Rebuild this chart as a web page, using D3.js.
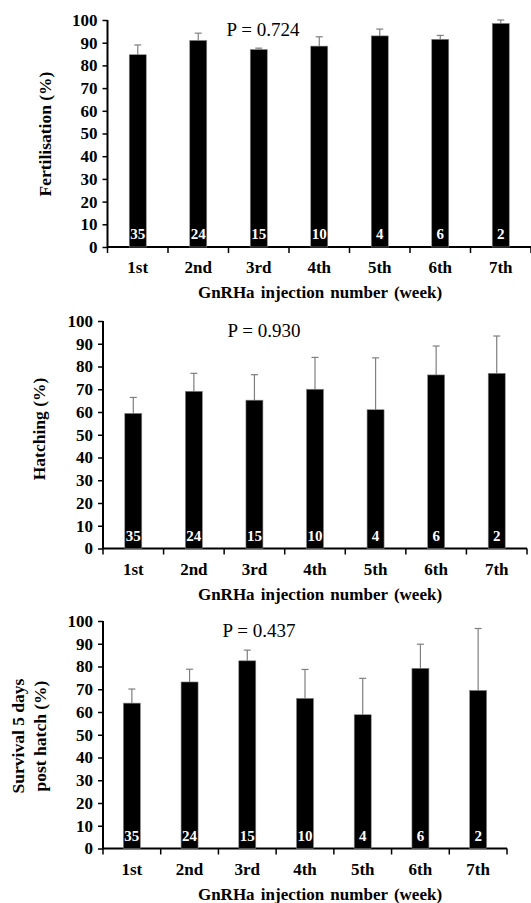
<!DOCTYPE html>
<html>
<head>
<meta charset="utf-8">
<script src="https://cdn.jsdelivr.net/npm/d3@7"></script>
<style>
  body { margin: 0; background: #fff; }
  text { font-family: "Liberation Serif", "Times New Roman", serif; }
</style>
</head>
<body>
<svg></svg>
<script>
const weeks = ["1st", "2nd", "3rd", "4th", "5th", "6th", "7th"];
const counts = [35, 24, 15, 10, 4, 6, 2];
const yTicks = [0, 10, 20, 30, 40, 50, 60, 70, 80, 90, 100];

const fertMean = [84.7, 91, 87, 88.5, 93, 91.5, 98.5];
const fertUpper = [89, 94.2, 87.6, 92.6, 96, 93.2, 100];
const hatchMean = [59.4, 69.1, 65.2, 70, 61, 76.3, 77];
const hatchUpper = [66.4, 77, 76.4, 84, 83.8, 89, 93.4];
const survMean = [63.9, 73.2, 82.5, 66, 58.8, 79.2, 69.5];
const survUpper = [70.1, 78.8, 87.2, 78.7, 74.8, 89.8, 96.7];

const pValues = ["P = 0.724", "P = 0.930", "P = 0.437"];
const xTitle = "GnRHa injection number (week)";

const width = 531;
const height = 903;
const svg = d3.select("svg")
              .attr("width", width)
              .attr("height", height);

// panel frames (pixel boxes of each plot area)
const panels = [
  {mean: fertMean, upper: fertUpper, p: pValues[0], label: ["Fertilisation (%)"],
   left: 107.5, right: 531, top: 20, bottom: 247, labelX: [45], labelY: 134, pX: 263},
  {mean: hatchMean, upper: hatchUpper, p: pValues[1], label: ["Hatching (%)"],
   left: 103, right: 527, top: 321, bottom: 548.5, labelX: [39], labelY: 429, pX: 264},
  {mean: survMean, upper: survUpper, p: pValues[2], label: ["Survival 5 days", "post hatch (%)"],
   left: 103, right: 507, top: 621, bottom: 848.5, labelX: [18, 40], labelY: 736, pX: 259}
];

panels.forEach(function(pn) {
  const g = svg.append("g");
  const x = d3.scaleBand().domain(weeks).range([pn.left, pn.right]).padding(0);
  const y = d3.scaleLinear().domain([0, 100]).range([pn.bottom, pn.top]);
  const bw = 17;

  // y axis
  const yAxis = g.append("g")
      .attr("transform", "translate(" + pn.left + ",0)")
      .call(d3.axisLeft(y).tickValues(yTicks).tickSize(5).tickPadding(5));
  yAxis.select(".domain").attr("stroke-width", 2).attr("d", "M0," + pn.bottom + "V" + pn.top);
  yAxis.selectAll(".tick line").attr("stroke-width", 1.5);
  yAxis.selectAll(".tick text")
      .style("font-family", "Liberation Serif")
      .style("font-weight", "bold")
      .style("font-size", "17px")
      .attr("fill", "#000");

  // x axis with ticks at band boundaries
  g.append("line")
      .attr("x1", pn.left).attr("x2", pn.right)
      .attr("y1", pn.bottom).attr("y2", pn.bottom)
      .attr("stroke", "#000").attr("stroke-width", 2);
  const bounds = weeks.map(w => x(w)).concat([x(weeks[weeks.length - 1]) + x.bandwidth()]);
  g.selectAll(".xtick")
    .data(bounds)
    .enter()
    .append("line")
      .attr("x1", d => d).attr("x2", d => d)
      .attr("y1", pn.bottom).attr("y2", pn.bottom + 6)
      .attr("stroke", "#000").attr("stroke-width", 1.5);
  g.selectAll(".xlab")
    .data(weeks)
    .enter()
    .append("text")
      .attr("x", d => x(d) + x.bandwidth() / 2)
      .attr("y", pn.bottom + 26)
      .attr("text-anchor", "middle")
      .style("font-weight", "bold")
      .style("font-size", "17px")
      .text(d => d);

  // error bars (upper only)
  g.selectAll(".err")
    .data(weeks)
    .enter()
    .append("line")
      .attr("x1", d => x(d) + x.bandwidth() / 2)
      .attr("x2", d => x(d) + x.bandwidth() / 2)
      .attr("y1", (d, i) => y(pn.mean[i]))
      .attr("y2", (d, i) => y(pn.upper[i]))
      .attr("stroke", "#7f7f7f").attr("stroke-width", 1.2);
  g.selectAll(".cap")
    .data(weeks)
    .enter()
    .append("line")
      .attr("x1", d => x(d) + x.bandwidth() / 2 - 3.5)
      .attr("x2", d => x(d) + x.bandwidth() / 2 + 3.5)
      .attr("y1", (d, i) => y(pn.upper[i]))
      .attr("y2", (d, i) => y(pn.upper[i]))
      .attr("stroke", "#7f7f7f").attr("stroke-width", 1.2);

  // bars
  g.selectAll(".bar")
    .data(weeks)
    .enter()
    .append("rect")
      .attr("x", d => x(d) + x.bandwidth() / 2 - bw / 2)
      .attr("width", bw)
      .attr("y", (d, i) => y(pn.mean[i]))
      .attr("height", (d, i) => pn.bottom - y(pn.mean[i]))
      .attr("fill", "#000")
      .attr("stroke", "#888").attr("stroke-width", 0.6);

  // sample sizes
  g.selectAll(".n")
    .data(counts)
    .enter()
    .append("text")
      .attr("x", (d, i) => x(weeks[i]) + x.bandwidth() / 2)
      .attr("y", pn.bottom - 8)
      .attr("text-anchor", "middle")
      .attr("fill", "#fff")
      .style("font-weight", "bold")
      .style("font-size", "15px")
      .text(d => d);

  // P value
  g.append("text")
      .attr("x", pn.pX)
      .attr("y", pn.top + 16)
      .attr("text-anchor", "middle")
      .style("font-size", "19px")
      .text(pn.p);

  // y label
  pn.label.forEach(function(line, k) {
    g.append("text")
        .attr("transform", "translate(" + (pn.labelX[k] + 6) + "," + pn.labelY + ") rotate(-90)")
        .attr("text-anchor", "middle")
        .style("font-weight", "bold")
        .style("font-size", "17.5px")
        .text(line);
  });

  // x title
  g.append("text")
      .attr("x", 320)
      .attr("y", pn.bottom + 51)
      .attr("text-anchor", "middle")
      .style("font-weight", "bold")
      .style("font-size", "17px")
      .style("word-spacing", "2px")
      .text(xTitle);
});
</script>
</body>
</html>
